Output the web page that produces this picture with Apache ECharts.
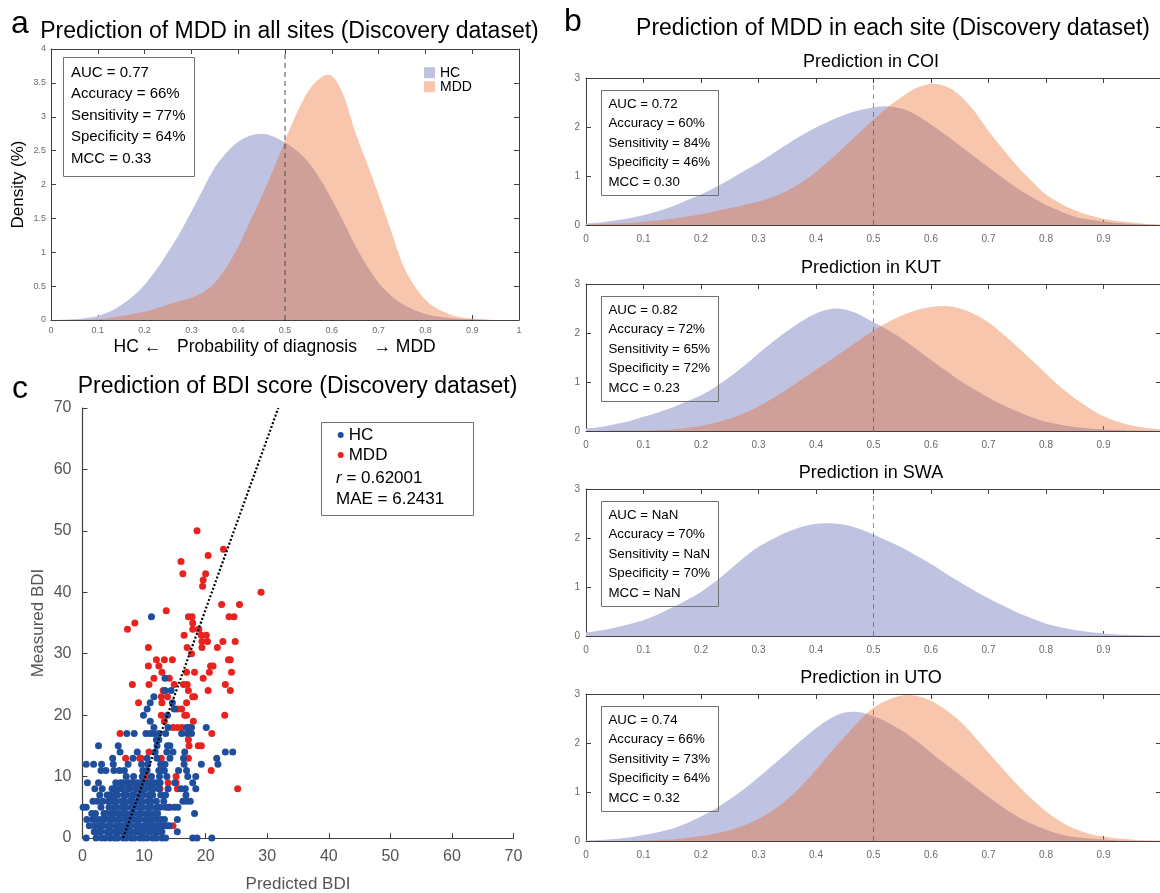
<!DOCTYPE html>
<html>
<head>
<meta charset="utf-8">
<script src="https://cdn.jsdelivr.net/npm/echarts@6/dist/echarts.min.js"></script>
<style>
  html, body { margin: 0; padding: 0; background: #fff; }
  #chart { width: 1160px; height: 893px; }
</style>
</head>
<body>
<div id="chart"></div>
<script>
// ---------- data ----------
// probability grid (step 0.025) on which the kernel densities are evaluated
const probGrid = [0, 0.025, 0.05, 0.075, 0.1, 0.125, 0.15, 0.175, 0.2, 0.225, 0.25, 0.275, 0.3, 0.325, 0.35, 0.375,
  0.4, 0.425, 0.45, 0.475, 0.5, 0.525, 0.55, 0.575, 0.6, 0.625, 0.65, 0.675, 0.7, 0.725, 0.75, 0.775,
  0.8, 0.825, 0.85, 0.875, 0.9, 0.925, 0.95, 0.975, 1];
const cutoff = 0.5;

// density (%) of predicted probability, all sites pooled
const allHC  = [0, 0.005, 0.01, 0.03, 0.06, 0.12, 0.22, 0.35, 0.52, 0.74, 1.0, 1.28, 1.6, 1.93, 2.25, 2.47,
  2.63, 2.72, 2.75, 2.71, 2.62, 2.5, 2.33, 2.08, 1.78, 1.45, 1.1, 0.8, 0.55, 0.37, 0.24, 0.15,
  0.09, 0.05, 0.03, 0.015, 0.01, 0.005, 0, 0, 0];
const allMDD = [0, 0, 0, 0.005, 0.01, 0.03, 0.06, 0.09, 0.12, 0.17, 0.23, 0.28, 0.33, 0.41, 0.55, 0.78,
  1.08, 1.45, 1.82, 2.22, 2.65, 3.05, 3.38, 3.57, 3.6, 3.32, 2.78, 2.32, 1.85, 1.35, 0.85, 0.52,
  0.3, 0.17, 0.09, 0.04, 0.02, 0.01, 0, 0, 0];

// density per site
const sites = ['COI', 'KUT', 'SWA', 'UTO'];
const coiHC  = [0.03, 0.05, 0.09, 0.14, 0.2, 0.28, 0.38, 0.5, 0.62, 0.77, 0.93, 1.1, 1.27, 1.46, 1.65, 1.83,
  1.99, 2.13, 2.25, 2.34, 2.4, 2.42, 2.37, 2.24, 2.05, 1.84, 1.62, 1.4, 1.18, 0.96, 0.75, 0.57,
  0.41, 0.28, 0.17, 0.11, 0.07, 0.04, 0.02, 0.01, 0];
const coiMDD = [0.01, 0.02, 0.03, 0.04, 0.06, 0.09, 0.13, 0.17, 0.22, 0.28, 0.34, 0.41, 0.48, 0.57, 0.7, 0.87,
  1.08, 1.33, 1.6, 1.88, 2.15, 2.41, 2.62, 2.8, 2.88, 2.83, 2.65, 2.33, 1.92, 1.55, 1.2, 0.9,
  0.62, 0.44, 0.3, 0.2, 0.13, 0.08, 0.05, 0.02, 0.01];
const kutHC  = [0.05, 0.08, 0.14, 0.2, 0.29, 0.38, 0.48, 0.6, 0.73, 0.9, 1.1, 1.33, 1.58, 1.82, 2.04, 2.24,
  2.4, 2.49, 2.48, 2.38, 2.22, 2.06, 1.88, 1.67, 1.45, 1.24, 1.03, 0.85, 0.68, 0.53, 0.4, 0.28,
  0.19, 0.13, 0.08, 0.05, 0.03, 0.02, 0.01, 0.005, 0];
const kutMDD = [0, 0, 0.01, 0.01, 0.01, 0.02, 0.03, 0.06, 0.1, 0.17, 0.25, 0.36, 0.5, 0.67, 0.85, 1.05,
  1.25, 1.45, 1.65, 1.85, 2.05, 2.22, 2.36, 2.47, 2.53, 2.55, 2.5, 2.39, 2.22, 1.98, 1.72, 1.45,
  1.17, 0.9, 0.67, 0.47, 0.3, 0.19, 0.11, 0.06, 0.03];
const swaHC  = [0.07, 0.11, 0.17, 0.24, 0.32, 0.44, 0.58, 0.73, 0.9, 1.11, 1.35, 1.6, 1.82, 1.98, 2.12, 2.23,
  2.29, 2.3, 2.27, 2.19, 2.07, 1.94, 1.8, 1.64, 1.47, 1.28, 1.1, 0.93, 0.77, 0.62, 0.48, 0.36,
  0.25, 0.18, 0.12, 0.08, 0.05, 0.03, 0.02, 0.01, 0.01];
const swaMDD = [];
const utoHC  = [0.01, 0.02, 0.04, 0.07, 0.12, 0.18, 0.25, 0.36, 0.5, 0.66, 0.85, 1.06, 1.3, 1.55, 1.8, 2.06,
  2.3, 2.5, 2.62, 2.63, 2.55, 2.42, 2.25, 2.04, 1.8, 1.57, 1.35, 1.12, 0.9, 0.69, 0.5, 0.35,
  0.23, 0.14, 0.08, 0.05, 0.03, 0.01, 0.005, 0, 0];
const utoMDD = [0, 0, 0, 0.005, 0.01, 0.02, 0.03, 0.06, 0.1, 0.15, 0.22, 0.32, 0.45, 0.62, 0.85, 1.13,
  1.45, 1.8, 2.13, 2.45, 2.72, 2.88, 2.97, 2.96, 2.86, 2.68, 2.45, 2.14, 1.8, 1.47, 1.15, 0.86,
  0.6, 0.4, 0.25, 0.15, 0.09, 0.05, 0.03, 0.015, 0.01];

// classification metrics
const metricNames = ['AUC', 'Accuracy', 'Sensitivity', 'Specificity', 'MCC'];
const metricsAll = ['0.77', '66%', '77%', '64%', '0.33'];
const metricsCOI = ['0.72', '60%', '84%', '46%', '0.30'];
const metricsKUT = ['0.82', '72%', '65%', '72%', '0.23'];
const metricsSWA = ['NaN', '70%', 'NaN', '70%', 'NaN'];
const metricsUTO = ['0.74', '66%', '73%', '64%', '0.32'];

// BDI regression: [predicted, measured]
const bdiMDD = [
  [18.6,50],[22.9,47],[20.4,46],[16.0,45],[16.3,43],[20.0,43],[19.6,42],[19.5,41],[29.0,40],[22.6,38],[25.5,38],
  [13.6,37],[17.2,36],[17.8,36],[23.8,36],[24.6,36],[8.5,35],[17.9,35],[7.3,34],[17.9,34],[18.9,34],[16.5,33],
  [19.3,33],[20.1,33],[19.4,32],[20.3,32],[22.8,32],[24.8,32],[10.7,31],[17.0,31],[19.4,31],[21.9,31],[17.7,30],
  [12.0,29],[13.3,29],[14.6,29],[23.7,29],[24.0,29],[10.7,28],[12.4,28],[20.8,28],[21.2,28],[12.9,27],[16.9,27],
  [18.2,27],[20.6,27],[24.2,27],[11.6,26],[14.1,26],[19.6,26],[8.1,25],[10.8,25],[14.9,25],[16.4,25],[17.0,25],
  [23.2,25],[13.1,24],[17.2,24],[20.4,24],[24.0,24],[12.8,23],[13.8,23],[17.9,23],[18.2,23],[9.1,22],[12.9,22],
  [16.9,22],[15.4,21],[16.1,21],[12.8,20],[16.6,20],[16.9,20],[23.1,20],[13.3,19],[18.0,19],[14.7,18],[15.4,18],
  [16.1,18],[6.1,17],[21.0,17],[17.2,16],[17.3,15],[18.8,15],[19.3,15],[10.8,14],[7.0,13],[9.3,13],[9.5,13],
  [12.8,13],[17.2,13],[20.9,11],[10.3,10],[15.2,10],[8.2,9],[13.9,9],[15.2,9],[12.5,9],[12.6,8],[15.4,8],[25.2,8],
  [14.2,5],[14.7,2]
];
const bdiHC = [
  [11.2,36],[13.4,26],[13.4,24],[14.4,24],[11.6,23],[11.0,22],[14.6,22],[10.5,21],[14.9,21],[9.9,20],[13.8,20],[11.0,19],
  [11.6,18],[13.9,18],[16.9,18],[17.3,18],[17.7,18],[20.1,18],
  [7.2,17],[8.4,17],[10.3,17],[11.0,17],[11.6,17],[12.4,17],[13.5,17],[16.1,17],[17.0,17],[17.7,17],
  [12.0,16],[12.4,16],
  [2.6,15],[5.8,15],[12.1,15],[13.8,15],[14.2,15],
  [6.1,14],[8.9,14],[11.8,14],[13.7,14],[14.7,14],[16.6,14],[23.2,14],[24.4,14],
  [4.9,13],[8.2,13],[10.5,13],[12.1,13],[14.2,13],[16.4,13],[21.8,13],
  [0.6,12],[1.8,12],[3.1,12],[5.0,12],[7.4,12],[9.6,12],[10.6,12],[12.7,12],[13.4,12],[16.5,12],[19.3,12],[22.0,12],
  [3.0,11],[3.8,11],[5.1,11],[6.0,11],[6.8,11],[9.8,11],[10.5,11],[12.4,11],[12.9,11],[13.3,11],[15.6,11],[16.9,11],
  [7.1,10],[8.3,10],[9.7,10],[11.2,10],[12.5,10],[13.7,10],[17.1,10],[18.4,10],
  [0.8,9],[2.6,9],[5.4,9],[6.2,9],[6.7,9],[7.5,9],[8.0,9],[8.9,9],[9.5,9],[10.5,9],[10.9,9],[11.5,9],[12.0,9],[12.6,9],[15.0,9],[17.9,9],
  [2.0,8],[3.2,8],[4.8,8],[5.2,8],[6.0,8],[6.5,8],[7.3,8],[7.7,8],[8.6,8],[9.0,8],[9.8,8],[10.2,8],[11.1,8],[11.5,8],[12.4,8],[13.9,8],[16.0,8],[16.7,8],[18.4,8],
  [2.8,7],[4.0,7],[4.5,7],[5.3,7],[5.7,7],[6.7,7],[7.2,7],[8.1,7],[8.5,7],[9.4,7],[9.9,7],[10.8,7],[11.4,7],[12.7,7],[13.5,7],[16.8,7],
  [1.7,6],[2.4,6],[3.3,6],[4.2,6],[4.8,6],[5.4,6],[6.3,6],[6.8,6],[7.7,6],[8.2,6],[9.1,6],[9.7,6],[10.6,6],[11.1,6],[12.0,6],[13.2,6],[16.3,6],[16.9,6],[17.5,6],
  [0.1,5],[0.6,5],[3.0,5],[4.3,5],[5.2,5],[5.6,5],[6.5,5],[7.1,5],[8.0,5],[8.5,5],[9.3,5],[9.8,5],[10.7,5],[11.2,5],[12.1,5],[12.6,5],[13.5,5],[14.0,5],[14.9,5],[15.5,5],
  [1.5,4],[2.1,4],[3.5,4],[3.9,4],[4.7,4],[5.1,4],[5.9,4],[6.5,4],[7.0,4],[7.8,4],[8.3,4],[9.1,4],[9.6,4],[10.4,4],[10.9,4],[11.7,4],[12.2,4],[18.2,4],
  [0.7,3],[1.7,3],[2.5,3],[3.1,3],[3.6,3],[4.4,3],[5.0,3],[5.7,3],[6.1,3],[7.0,3],[7.5,3],[8.2,3],[8.9,3],[9.3,3],[10.2,3],[10.8,3],[11.3,3],[12.1,3],[12.7,3],[13.3,3],[15.4,3],
  [1.1,2],[2.0,2],[2.8,2],[3.3,2],[4.2,2],[4.6,2],[5.5,2],[6.0,2],[6.7,2],[7.4,2],[7.8,2],[8.7,2],[9.2,2],[10.0,2],[10.4,2],[11.2,2],[11.7,2],[12.5,2],[13.0,2],[13.7,2],[14.1,2],
  [1.9,1],[2.6,1],[3.0,1],[4.0,1],[4.5,1],[5.3,1],[5.8,1],[6.5,1],[7.3,1],[7.8,1],[8.6,1],[9.2,1],[9.7,1],[10.6,1],[11.0,1],[11.8,1],[12.3,1],[12.9,1],[15.4,1],
  [0.6,0],[2.2,0],[3.1,0],[3.7,0],[4.5,0],[5.2,0],[5.7,0],[6.6,0],[7.1,0],[7.9,0],[8.4,0],[9.3,0],[9.9,0],[10.5,0],[11.4,0],[12.0,0],[12.9,0],[13.5,0],[17.9,0],[18.6,0],[21.0,0]
];
const bdiFit = [[6.6, 0], [31.8, 70]];
const bdiR = '0.62001';
const bdiMAE = '6.2431';

// ---------- styling ----------
const FONT = '"Liberation Sans", Arial, Helvetica, sans-serif';
const AXIS = '#404040';
const TICK_LABEL = '#6a6a6a';
const HC_FILL = '#c0c2e1';
const MDD_FILL = 'rgba(233,101,33,0.37)';
const MDD_SWATCH = '#f7c6ad';
const HC_DOT = '#1f4e9d';
const MDD_DOT = '#e8221e';

const grids = [], xAxes = [], yAxes = [], series = [], graphics = [];

const measureCtx = document.createElement('canvas').getContext('2d');
function measure(t, size) {
  measureCtx.font = size + 'px ' + FONT;
  return measureCtx.measureText(t).width;
}

function txt(x, y, text, size, opt) {
  opt = opt || {};
  const style = {
    text: text,
    font: (opt.italic ? 'italic ' : '') + size + 'px ' + FONT,
    fill: opt.color || '#000',
    align: opt.align || 'left', textAlign: opt.align || 'left',
    verticalAlign: 'middle', textVerticalAlign: 'middle'
  };
  if (opt.rich) style.rich = opt.rich;
  return { type: 'text', x: x, y: y, z: 100, silent: true, style: style };
}

// filled density outline: points are placed by the axes, joined by a Catmull-Rom curve
function areaSeries(name, vals, xi, yi, fill) {
  const data = probGrid.map((p, i) => [p, vals[i]]);
  return {
    type: 'custom', name: name, xAxisIndex: xi, yAxisIndex: yi, silent: true, z: 2,
    data: data, encode: { x: 0, y: 1 }, itemStyle: { color: fill },
    renderItem: function (params, api) {
      if (params.dataIndex !== 0) return null;
      const pts = data.map(d => api.coord(d));
      const base = api.coord([0, 0])[1];
      const n = pts.length;
      let path = 'M' + pts[0][0] + ',' + base + ' L' + pts[0][0] + ',' + pts[0][1];
      for (let i = 0; i < n - 1; i++) {
        const p0 = pts[Math.max(i - 1, 0)], p1 = pts[i], p2 = pts[i + 1], p3 = pts[Math.min(i + 2, n - 1)];
        const c1x = p1[0] + (p2[0] - p0[0]) / 6, c1y = Math.min(base, p1[1] + (p2[1] - p0[1]) / 6);
        const c2x = p2[0] - (p3[0] - p1[0]) / 6, c2y = Math.min(base, p2[1] - (p3[1] - p1[1]) / 6);
        path += ' C' + c1x + ',' + c1y + ' ' + c2x + ',' + c2y + ' ' + p2[0] + ',' + p2[1];
      }
      path += ' L' + pts[n - 1][0] + ',' + base + ' Z';
      return { type: 'path', shape: { pathData: path }, style: { fill: fill, stroke: null } };
    }
  };
}

function fmt(v) { return String(Math.round(v * 10) / 10); }

// one boxed density plot with ticks on all four sides
function densityPanel(rect, yMax, yInterval, hc, mdd, o) {
  const g = grids.length;
  grids.push({ left: rect[0], top: rect[1], width: rect[2], height: rect[3], containLabel: false, outerBoundsMode: 'none' });
  const base = () => ({
    gridIndex: g, type: 'value', splitLine: { show: false },
    axisLine: { show: true, onZero: false, lineStyle: { color: AXIS, width: 1 } },
    axisTick: { show: true, inside: true, length: o.tick, lineStyle: { color: AXIS } }
  });
  const xi = xAxes.length;
  xAxes.push(Object.assign(base(), {
    min: 0, max: 1, interval: 0.1, position: 'bottom',
    axisLabel: { show: true, fontSize: o.font, color: TICK_LABEL, margin: o.xMargin,
      formatter: v => (o.hideOne && v > 0.99) ? '' : fmt(v) }
  }));
  xAxes.push(Object.assign(base(), { min: 0, max: 1, interval: 0.1, position: 'top', axisLabel: { show: false } }));
  const yi = yAxes.length;
  const yLeft = Object.assign(base(), {
    min: 0, max: yMax, interval: yInterval, position: 'left',
    axisLabel: { show: true, fontSize: o.font, color: TICK_LABEL, margin: o.yMargin, formatter: fmt }
  });
  if (o.yName) {
    Object.assign(yLeft, { name: o.yName, nameLocation: 'middle', nameGap: o.yNameGap, nameRotate: 90,
      nameTextStyle: { fontSize: o.yNameSize, color: '#000', fontFamily: FONT } });
  }
  yAxes.push(yLeft);
  yAxes.push(Object.assign(base(), { min: 0, max: yMax, interval: yInterval, position: 'right', axisLabel: { show: false } }));

  series.push(areaSeries('HC', hc, xi, yi, HC_FILL));
  if (mdd.length) series.push(areaSeries('MDD', mdd, xi, yi, MDD_FILL));
  series.push({
    type: 'line', name: 'cutoff', xAxisIndex: xi, yAxisIndex: yi,
    data: [[cutoff, 0], [cutoff, yMax]], symbol: 'none', silent: true,
    lineStyle: { color: o.cutColor, width: 1, type: [5, 4] }, z: 5
  });
}

// metrics box: text lines framed by a thin grey rectangle
function statsBox(x, y, values, s) {
  const lines = metricNames.map((n, i) => n + ' = ' + values[i]);
  const w = Math.max.apply(null, lines.map(l => measure(l, s.size)));
  const h = s.padTop + s.gap * (lines.length - 1) + s.padBottom;
  graphics.push({ type: 'rect', z: 90, silent: true,
    shape: { x: x, y: y, width: Math.round(s.padL + w + s.padR), height: Math.round(h) },
    style: { fill: 'none', stroke: '#707070', lineWidth: 1 } });
  lines.forEach((l, i) => graphics.push(txt(x + s.padL, y + s.padTop + i * s.gap, l, s.size)));
}

// ---------- panel a ----------
densityPanel([51, 49, 468, 271], 4, 0.5, allHC, allMDD, {
  tick: 5, font: 9, xMargin: 6, yMargin: 5, cutColor: '#4a4a4a', hideOne: false,
  yName: 'Density (%)', yNameGap: 24, yNameSize: 17
});
statsBox(63.5, 57.5, metricsAll, { size: 15, gap: 21.4, padTop: 15.4, padBottom: 17.7, padL: 7.4, padR: 9.3 });
graphics.push(txt(11, 24, 'a', 32));
graphics.push(txt(289.5, 32, 'Prediction of MDD in all sites (Discovery dataset)', 23, { align: 'center' }));
graphics.push(txt(113.6, 347, 'HC \u2190', 17.5));
graphics.push(txt(267, 347, 'Probability of diagnosis', 17.5, { align: 'center' }));
graphics.push(txt(435.7, 347, '\u2192 MDD', 17.5, { align: 'right' }));

// ---------- panel b ----------
const siteHC = [coiHC, kutHC, swaHC, utoHC];
const siteMDD = [coiMDD, kutMDD, swaMDD, utoMDD];
const siteMetrics = [metricsCOI, metricsKUT, metricsSWA, metricsUTO];
const siteTops = [78, 284, 489, 694];
sites.forEach((s, k) => {
  const top = siteTops[k];
  densityPanel([586, top, 575, 147], 3, 1, siteHC[k], siteMDD[k], {
    tick: 5, font: 10, xMargin: 9, yMargin: 6, cutColor: 'rgba(50,50,50,0.5)', hideOne: true
  });
  statsBox(601.5, top + 12.5, siteMetrics[k], { size: 13.3, gap: 19.5, padTop: 13.5, padBottom: 13.5, padL: 7, padR: 8 });
  graphics.push(txt(871, top - 15.5, 'Prediction in ' + s, 18, { align: 'center' }));
});
graphics.push(txt(564, 22, 'b', 32));
graphics.push(txt(893, 29, 'Prediction of MDD in each site (Discovery dataset)', 23, { align: 'center' }));

// ---------- panel c ----------
const cg = grids.length;
grids.push({ left: 82.5, top: 408, width: 431, height: 430, containLabel: false, outerBoundsMode: 'none' });
const cAxis = (name, gap) => ({
  gridIndex: cg, type: 'value', min: 0, max: 70, interval: 10, splitLine: { show: false },
  axisLine: { show: true, onZero: false, lineStyle: { color: AXIS, width: 1.2 } },
  axisTick: { show: true, inside: true, length: 5, lineStyle: { color: AXIS } },
  axisLabel: { fontSize: 16, color: '#555', margin: 11 },
  name: name, nameLocation: 'middle', nameGap: gap,
  nameTextStyle: { fontSize: 17, color: '#555', fontFamily: FONT }
});
const cxi = xAxes.length;
xAxes.push(Object.assign(cAxis('Predicted BDI', 38), { position: 'bottom' }));
const cyi = yAxes.length;
yAxes.push(Object.assign(cAxis('Measured BDI', 36), { position: 'left' }));

series.push({ type: 'scatter', name: 'MDD', xAxisIndex: cxi, yAxisIndex: cyi, data: bdiMDD,
  symbolSize: 7, silent: true, itemStyle: { color: MDD_DOT, opacity: 1 }, z: 3 });
series.push({ type: 'scatter', name: 'HC', xAxisIndex: cxi, yAxisIndex: cyi, data: bdiHC,
  symbolSize: 7, silent: true, itemStyle: { color: HC_DOT, opacity: 1 }, z: 4 });
series.push({ type: 'line', name: 'fit', xAxisIndex: cxi, yAxisIndex: cyi, data: bdiFit,
  symbol: 'none', silent: true, lineStyle: { color: '#000', width: 2.2, type: [2, 2] }, z: 6 });

graphics.push(txt(12, 389, 'c', 32));
graphics.push(txt(297.5, 387, 'Prediction of BDI score (Discovery dataset)', 23, { align: 'center' }));
graphics.push({ type: 'rect', z: 90, silent: true, shape: { x: 321.5, y: 422.5, width: 152, height: 93 },
  style: { fill: '#fff', stroke: '#707070', lineWidth: 1 } });
graphics.push(txt(336, 478, '{i|r} = ' + bdiR, 17, { rich: { i: { font: 'italic 17px ' + FONT, fill: '#000' } } }));
graphics.push(txt(336, 499, 'MAE = ' + bdiMAE, 17));

// ---------- render ----------
const chart = echarts.init(document.getElementById('chart'), null, { renderer: 'canvas', width: 1160, height: 893 });
chart.setOption({
  backgroundColor: '#fff',
  animation: false,
  textStyle: { fontFamily: FONT },
  grid: grids,
  xAxis: xAxes,
  yAxis: yAxes,
  legend: [
    { left: 424, top: 65.7, padding: 0, orient: 'vertical', icon: 'rect', itemWidth: 11, itemHeight: 11, itemGap: 0,
      selectedMode: false, textStyle: { fontSize: 14, color: '#000', fontFamily: FONT, lineHeight: 14 },
      data: [{ name: 'HC', itemStyle: { color: HC_FILL } }, { name: 'MDD', itemStyle: { color: MDD_SWATCH } }] },
    { left: 337.7, top: 426.5, padding: 0, orient: 'vertical', icon: 'circle', itemWidth: 6, itemHeight: 6, itemGap: 3, z: 120,
      selectedMode: false, textStyle: { fontSize: 17, color: '#000', fontFamily: FONT, lineHeight: 17 },
      data: [{ name: 'HC', itemStyle: { color: HC_DOT } }, { name: 'MDD', itemStyle: { color: MDD_DOT } }] }
  ],
  graphic: { elements: graphics },
  series: series
});
</script>
</body>
</html>
